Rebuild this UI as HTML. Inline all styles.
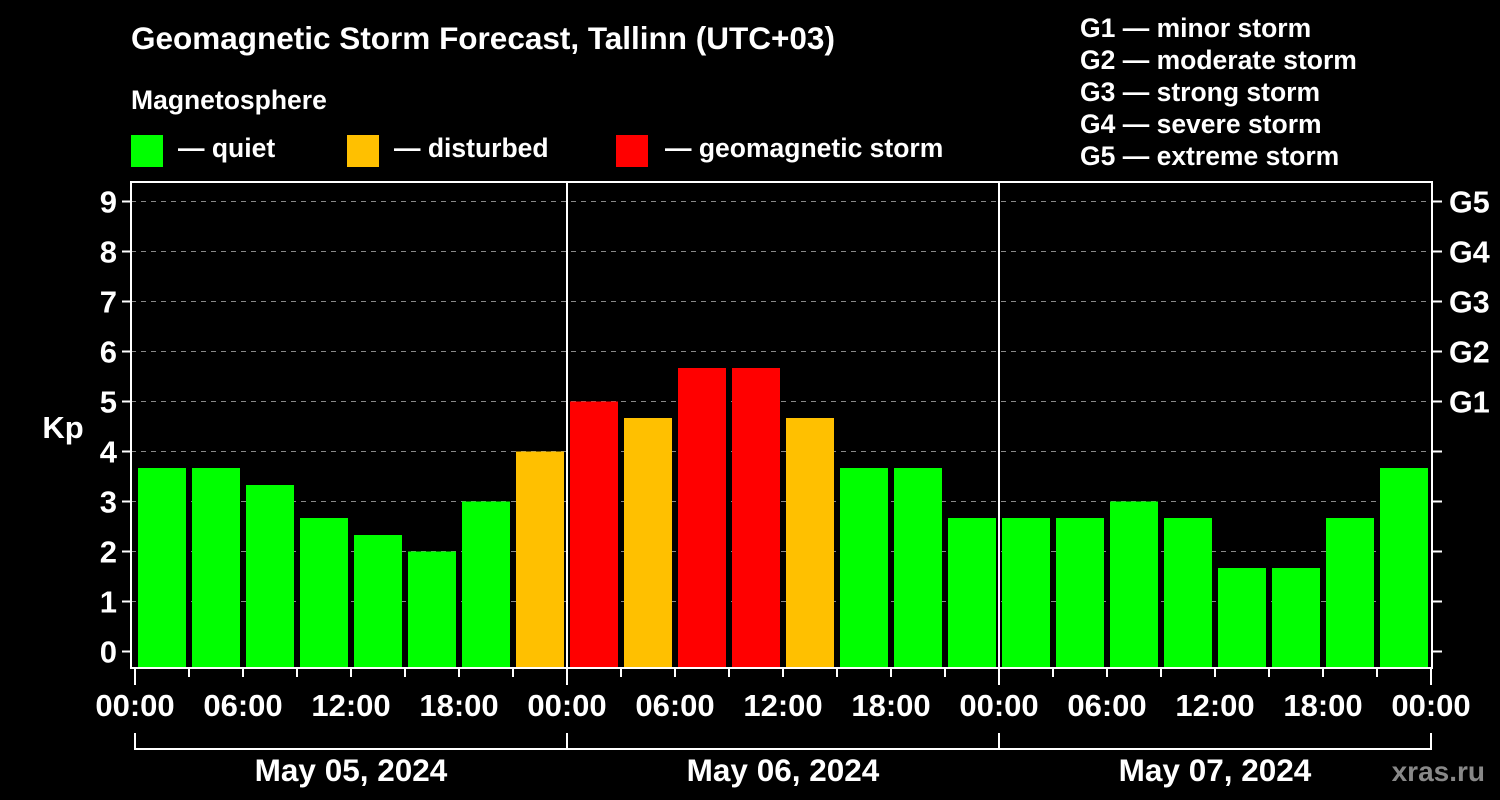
<!DOCTYPE html>
<html><head><meta charset="utf-8"><style>
html,body{margin:0;padding:0;background:#000;}
svg{display:block;font-family:"Liberation Sans",Arial,sans-serif;font-weight:bold;}
</style></head><body>
<svg id="chart" width="1500" height="800" viewBox="0 0 1500 800">
<text x="131" y="49" fill="#fff" font-size="31.5">Geomagnetic Storm Forecast, Tallinn (UTC+03)</text>
<text x="131" y="109" fill="#fff" font-size="26.5">Magnetosphere</text>
<g><rect x="131" y="135" width="32" height="32" fill="#00ff00"/><text x="178" y="157" fill="#fff" font-size="26.5">— quiet</text></g>
<g><rect x="347" y="135" width="32" height="32" fill="#ffc000"/><text x="394" y="157" fill="#fff" font-size="26.5">— disturbed</text></g>
<g><rect x="616" y="135" width="32" height="32" fill="#ff0000"/><text x="665" y="157" fill="#fff" font-size="26.5">— geomagnetic storm</text></g>
<g fill="#fff" font-size="26.5">
<text x="1080" y="37">G1 — minor storm</text>
<text x="1080" y="69">G2 — moderate storm</text>
<text x="1080" y="101">G3 — strong storm</text>
<text x="1080" y="133">G4 — severe storm</text>
<text x="1080" y="165">G5 — extreme storm</text>
</g>
<text x="63" y="438" fill="#fff" font-size="31" text-anchor="middle">Kp</text>
<text x="1485" y="781" fill="#888" font-size="28" text-anchor="end">xras.ru</text>
<g id="plot"></g>
</svg>
<script>
const kpValues=[3.67,3.67,3.33,2.67,2.33,2,3,4, 5,4.67,5.67,5.67,4.67,3.67,3.67,2.67, 2.67,2.67,3,2.67,1.67,1.67,2.67,3.67];
const yTicks=[0,1,2,3,4,5,6,7,8,9];
const gLabels=["G1","G2","G3","G4","G5"];
const gLevels=[5,6,7,8,9];
const xTickLabels=["00:00","06:00","12:00","18:00","00:00","06:00","12:00","18:00","00:00","06:00","12:00","18:00","00:00"];
const dayLabels=["May 05, 2024","May 06, 2024","May 07, 2024"];

const L=131,R=1432,T=182,B=668;
const hourW=18;
const x=h=>135+h*hourW;
const y=v=>651.5-v*50;
const ns="http://www.w3.org/2000/svg";
const g=document.getElementById('plot');
function mk(tag,at){const e=document.createElementNS(ns,tag);for(const k in at)e.setAttribute(k,at[k]);g.appendChild(e);return e;}

yTicks.forEach(v=>{
  if(v>0){const l=mk('line',{x1:L,x2:R,y1:y(v),y2:y(v),stroke:'#888','stroke-dasharray':'5,5','stroke-width':1});
  
  }
  const t=mk('line',{x1:L-9,x2:L,y1:y(v),y2:y(v),stroke:'#fff','stroke-width':2});
  
  
  const t2=mk('line',{x1:R,x2:R+10,y1:y(v),y2:y(v),stroke:'#fff','stroke-width':2});
  
  
  const tx=mk('text',{x:L-14,y:y(v)+11,fill:'#fff','font-size':31,'text-anchor':'end'});
  tx.textContent=v;
  
  
});
gLabels.forEach((s,i)=>{
  const tx=mk('text',{x:R+17,y:y(gLevels[i])+11,fill:'#fff','font-size':30.5});
  tx.textContent=s;
  
  
});
kpValues.forEach((v,i)=>{
  const col=v>=5?'#ff0000':(v>=4?'#ffc000':'#00ff00');
  const r=mk('rect',{x:x(i*3)+3,y:y(v),width:hourW*3-6,height:B-y(v),fill:col});
  
  
});
[24,48].forEach(h=>{
  const l=mk('line',{x1:x(h),x2:x(h),y1:T,y2:B,stroke:'#fff','stroke-width':2});
  
  
});
const fr=mk('rect',{x:L,y:T,width:R-L,height:B-T,fill:'none',stroke:'#fff','stroke-width':2});


for(let h=0;h<=72;h+=3){
  const long=h%24===0;
  const t=mk('line',{x1:x(h),x2:x(h),y1:B,y2:B+(long?17:9),stroke:'#fff','stroke-width':2});
  
  
}
xTickLabels.forEach((s,i)=>{
  const tx=mk('text',{x:x(i*6),y:716,fill:'#fff','font-size':31,'text-anchor':'middle'});
  tx.textContent=s;
  
  
});
const br=mk('path',{d:`M${x(0)},733V749H${x(72)}V733M${x(24)},733V749M${x(48)},733V749`,fill:'none',stroke:'#fff','stroke-width':2});


dayLabels.forEach((s,i)=>{
  const tx=mk('text',{x:x(i*24+12),y:781,fill:'#fff','font-size':31.5,'text-anchor':'middle'});
  tx.textContent=s;
  
  
});
</script>
</body></html>
